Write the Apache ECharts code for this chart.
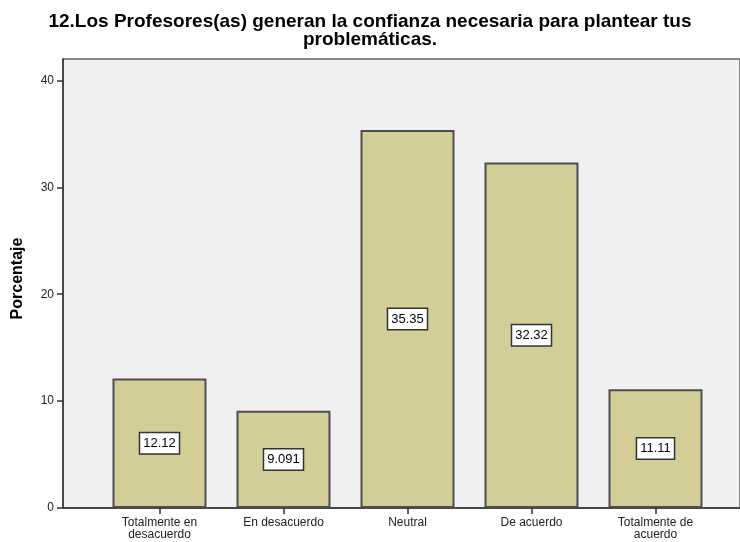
<!DOCTYPE html>
<html>
<head>
<meta charset="utf-8">
<script src="https://cdn.jsdelivr.net/npm/echarts@6/dist/echarts.min.js"></script>
<style>
  html, body { margin: 0; padding: 0; background: #fff; }
  #chart { width: 740px; height: 542px; }
</style>
</head>
<body>
<div id="chart"></div>
<script>
const categories = ['Totalmente en\ndesacuerdo', 'En desacuerdo', 'Neutral', 'De acuerdo', 'Totalmente de\nacuerdo']
const porcentajes = [12.12, 9.091, 35.35, 32.32, 11.11]
const yTicks = [0, 10, 20, 30, 40]

const font = "'Liberation Sans', Arial, sans-serif"
const chart = echarts.init(document.getElementById('chart'))

const option = {
  animation: false,
  title: {
    text: '12.Los Profesores(as) generan la confianza necesaria para plantear tus\nproblemáticas.',
    left: 'center',
    top: 8,
    textStyle: { fontFamily: font, fontSize: 19, fontWeight: 'bold', color: '#000', lineHeight: 18 }
  },
  grid: [
    // marco gris del gráfico
    { left: 63, right: -5, top: 59, bottom: 34, show: true, backgroundColor: '#F0F0F0', borderColor: '#666', borderWidth: 1.5 },
    // zona de las barras
    { left: 97.5, width: 620, top: 59, bottom: 34 }
  ],
  xAxis: [
    {
      gridIndex: 0, type: 'value', min: 0, max: 1,
      axisLine: { show: true, lineStyle: { color: '#333', width: 1.5 } },
      axisTick: { show: false }, axisLabel: { show: false }, splitLine: { show: false }
    },
    {
      gridIndex: 1, type: 'category', data: categories,
      axisLine: { show: false },
      axisTick: { show: true, alignWithLabel: true, length: 6, lineStyle: { color: '#333', width: 1.5 } },
      axisLabel: { fontFamily: font, fontSize: 12, color: '#222', margin: 9, lineHeight: 12 }
    }
  ],
  yAxis: [
    {
      gridIndex: 0, type: 'value', min: 0, max: 42, interval: 10,
      name: 'Porcentaje', nameLocation: 'middle', nameRotate: 90, nameGap: 37,
      nameTextStyle: { fontFamily: font, fontSize: 16, fontWeight: 'bold', color: '#000', padding: [0, 0, 0, 10] },
      axisLine: { show: true, lineStyle: { color: '#333', width: 1.5 } },
      axisTick: { show: true, length: 6, customValues: yTicks, lineStyle: { color: '#333', width: 1.5 } },
      axisLabel: {
        fontFamily: font, fontSize: 12, color: '#222', margin: 9,
        customValues: yTicks
      },
      splitLine: { show: false }
    },
    { gridIndex: 1, type: 'value', min: 0, max: 42, show: false }
  ],
  series: [
    {
      type: 'bar',
      xAxisIndex: 1,
      yAxisIndex: 1,
      data: porcentajes,
      barWidth: 94,
      itemStyle: { color: '#D3CE97', borderColor: '#4d4d4d', borderWidth: 2 },
      label: {
        show: true,
        position: 'inside',
        fontFamily: font,
        fontSize: 13,
        color: '#000',
        backgroundColor: '#fff',
        borderColor: '#333',
        borderWidth: 1.5,
        padding: [4, 3, 3, 3],
        formatter: p => String(p.value)
      }
    }
  ]
}

chart.setOption(option)
</script>
</body>
</html>
